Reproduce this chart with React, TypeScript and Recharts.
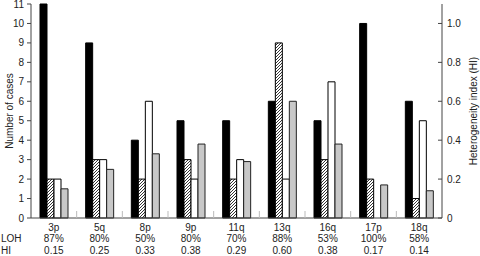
import { BarChart, Bar, XAxis, YAxis, Label } from "recharts";

const regions = ["3p", "5q", "8p", "9p", "11q", "13q", "16q", "17p", "18q"];
const blackCases = [11, 9, 4, 5, 5, 6, 5, 10, 6];
const hatchedCases = [2, 3, 2, 3, 2, 9, 3, 2, 1];
const whiteCases = [2, 3, 6, 2, 3, 2, 7, 0, 5];
const heterogeneity = [0.15, 0.25, 0.33, 0.38, 0.29, 0.6, 0.38, 0.17, 0.14];
const lohPercent = ["87%", "80%", "50%", "80%", "70%", "88%", "53%", "100%", "58%"];
const hiLabels = ["0.15", "0.25", "0.33", "0.38", "0.29", "0.60", "0.38", "0.17", "0.14"];
const caseTicks = [0, 1, 2, 3, 4, 5, 6, 7, 8, 9, 10, 11];
const hiTicks = [0, 0.2, 0.4, 0.6, 0.8, 1.0];

const data = regions.map((region, i) => ({
  region,
  black: blackCases[i],
  hatched: hatchedCases[i],
  white: whiteCases[i],
  hi: heterogeneity[i],
  loh: lohPercent[i],
  hiLabel: hiLabels[i],
}));

const FONT = "'Liberation Sans Narrow', 'Liberation Sans', Arial, sans-serif";
const TEXT = "#222";

function RegionTick(props: any) {
  const { x, y, payload, index } = props;
  const half = payload.offset ?? 0;
  const row = data[index];
  return (
    <g fontFamily={FONT} fontSize={10} fill={TEXT}>
      {index > 0 && (
        <line x1={x - half} x2={x - half} y1={y} y2={y - 7} stroke="#bbb" />
      )}
      <text x={x} y={y + 13} textAnchor="middle">
        {payload.value}
      </text>
      <text x={x} y={y + 24} textAnchor="middle">
        {row?.loh}
      </text>
      <text x={x} y={y + 36} textAnchor="middle">
        {row?.hiLabel}
      </text>
      {index === 0 && (
        <>
          <text x={x - half - 30} y={y + 24}>LOH</text>
          <text x={x - half - 30} y={y + 36}>HI</text>
        </>
      )}
    </g>
  );
}

export default function App() {
  return (
    <div style={{ position: "absolute", left: 0, top: 0, background: "#fff" }}>
      <BarChart
        width={480}
        height={256}
        data={data}
        margin={{ top: 4, right: 0, bottom: 0, left: 0 }}
        barSize={7}
        barGap={0}
      >
        <defs>
          <pattern id="hatch" width="3" height="3" patternUnits="userSpaceOnUse">
            <rect width="3" height="3" fill="#fff" />
            <path d="M-1,1 l2,-2 M0,3 l3,-3 M2,4 l2,-2" stroke="#000" strokeWidth={0.8} />
          </pattern>
        </defs>
        <XAxis
          dataKey="region"
          xAxisId={0}
          height={38}
          tickLine={false}
          tickSize={0}
          tickMargin={0}
          interval={0}
          axisLine={{ stroke: "#444" }}
          tick={<RegionTick />}
        />
        <YAxis
          yAxisId="cases"
          width={31}
          domain={[0, 11]}
          ticks={caseTicks}
          interval={0}
          tickSize={4}
          tickMargin={3}
          axisLine={{ stroke: "#444" }}
          tickLine={{ stroke: "#444" }}
          tick={{ fontSize: 10, fontFamily: FONT, fill: TEXT }}
        >
          <Label
            value="Number of cases"
            angle={-90}
            position="center"
            dx={-6}
            style={{ fontSize: 10, fontFamily: "'Liberation Sans', Arial, sans-serif", fill: TEXT }}
          />
        </YAxis>
        <YAxis
          yAxisId="hi"
          orientation="right"
          width={38}
          domain={[0, 1.1]}
          ticks={hiTicks}
          interval={0}
          tickSize={-4}
          tickMargin={9}
          tickFormatter={(v: number) => (v === 0 ? "0" : v.toFixed(1))}
          axisLine={{ stroke: "#444" }}
          tickLine={{ stroke: "#444" }}
          tick={{ fontSize: 10, fontFamily: FONT, fill: TEXT }}
        >
          <Label
            value="Heterogeneity index (HI)"
            angle={-90}
            position="center"
            dx={12}
            style={{ fontSize: 10, fontFamily: "'Liberation Sans', Arial, sans-serif", fill: TEXT }}
          />
        </YAxis>
        <Bar dataKey="black" yAxisId="cases" fill="#000" stroke="#000" isAnimationActive={false} />
        <Bar dataKey="hatched" yAxisId="cases" fill="url(#hatch)" stroke="#000" isAnimationActive={false} />
        <Bar dataKey="white" yAxisId="cases" fill="#fff" stroke="#000" isAnimationActive={false} />
        <Bar dataKey="hi" yAxisId="hi" fill="#c8c8c8" stroke="#222" isAnimationActive={false} />
      </BarChart>
    </div>
  );
}
